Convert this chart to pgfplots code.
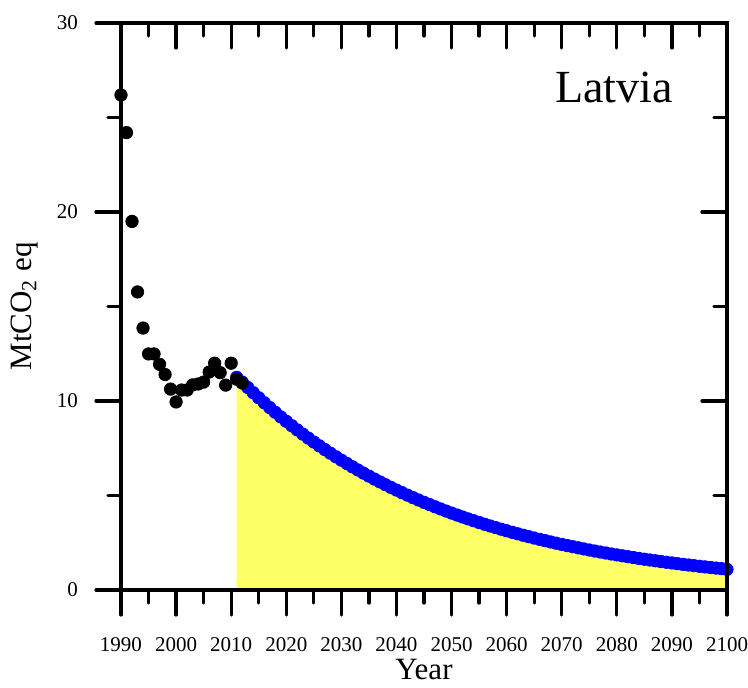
\documentclass[border=0pt]{standalone}
\usepackage{fontspec}
\setmainfont{Liberation Serif}
\usepackage{pgfplots}
\usepackage{pgfplotstable}
\pgfplotsset{compat=1.18}
\definecolor{fillyellow}{RGB}{255,255,102}

% historical emissions
\pgfplotstableread{
year value
1990 26.19
1991 24.20
1992 19.50
1993 15.77
1994 13.86
1995 12.49
1996 12.49
1997 11.94
1998 11.40
1999 10.63
2000 9.95
2001 10.58
2002 10.58
2003 10.85
2004 10.90
2005 11.00
2006 11.53
2007 12.00
2008 11.50
2009 10.84
2010 12.00
2011 11.15
2012 10.95
}\histdata

% projected decline
\pgfplotstableread{
year value
2011 11.25
2012 11.00
2013 10.716
2014 10.439
2015 10.170
2016 9.907
2017 9.651
2018 9.402
2019 9.159
2020 8.923
2021 8.692
2022 8.468
2023 8.249
2024 8.036
2025 7.829
2026 7.627
2027 7.430
2028 7.238
2029 7.051
2030 6.869
2031 6.691
2032 6.518
2033 6.350
2034 6.186
2035 6.026
2036 5.871
2037 5.719
2038 5.571
2039 5.427
2040 5.287
2041 5.151
2042 5.018
2043 4.888
2044 4.762
2045 4.639
2046 4.519
2047 4.402
2048 4.289
2049 4.178
2050 4.070
2051 3.965
2052 3.863
2053 3.763
2054 3.666
2055 3.571
2056 3.479
2057 3.389
2058 3.302
2059 3.216
2060 3.133
2061 3.052
2062 2.974
2063 2.897
2064 2.822
2065 2.749
2066 2.678
2067 2.609
2068 2.542
2069 2.476
2070 2.412
2071 2.350
2072 2.289
2073 2.230
2074 2.173
2075 2.116
2076 2.062
2077 2.009
2078 1.957
2079 1.906
2080 1.857
2081 1.809
2082 1.762
2083 1.717
2084 1.673
2085 1.629
2086 1.587
2087 1.546
2088 1.507
2089 1.468
2090 1.430
2091 1.393
2092 1.357
2093 1.322
2094 1.288
2095 1.255
2096 1.222
2097 1.191
2098 1.160
2099 1.130
2100 1.090
}\projdata

\begin{document}
\begin{tikzpicture}
\pgfplotsset{
  common/.style={
    scale only axis, width=303pt, height=283.5pt,
    xmin=1990, xmax=2100, ymin=0, ymax=30,
    xtick={1990,2000,...,2100}, ytick={0,10,20,30},
    minor x tick num=1, minor y tick num=1,
    major tick length=12.5pt, minor tick length=6.5pt,
    axis line style={line width=1.6pt},
    major tick style={line width=1.6pt, line cap=round, black},
    minor tick style={line width=1.6pt, line cap=round, black},
  }
}
\begin{axis}[common, clip=false,
  tick align=outside, xtick pos=left, ytick pos=left,
  /pgf/number format/assume math mode=true,
  /pgf/number format/1000 sep={},
  ticklabel style={font=\fontsize{10.5}{12}\selectfont},
  xticklabel style={yshift=-7.5pt},
  yticklabel style={xshift=-5.5pt},
  xlabel={Year}, ylabel={MtCO\textsubscript{2} eq},
  label style={font=\fontsize{15.5}{18}\selectfont},
  xlabel style={at={(axis description cs:0.5,-0.141)}, anchor=center},
  ylabel style={at={(axis description cs:-0.1584,0.5)}, anchor=center},
]
\addplot[draw=none, fill=fillyellow] table[x=year, y=value] {\projdata} \closedcycle;
\addplot[only marks, mark=*, mark size=3.1pt, mark options={draw=blue, fill=blue}] table[x=year, y=value] {\projdata};
\addplot[only marks, mark=*, mark size=3.1pt, mark options={draw=black, fill=black}] table[x=year, y=value] {\histdata};
\node[font=\fontsize{23}{27}\selectfont] at (axis cs:2079.5,26.6) {Latvia};
\end{axis}
\begin{axis}[common, tick align=inside, xtick pos=right, ytick pos=right,
  xticklabels={}, yticklabels={}]
\end{axis}
\pgfresetboundingbox
\path (-60.5pt,-49pt) rectangle (313.5pt,295pt);
\end{tikzpicture}
\end{document}
